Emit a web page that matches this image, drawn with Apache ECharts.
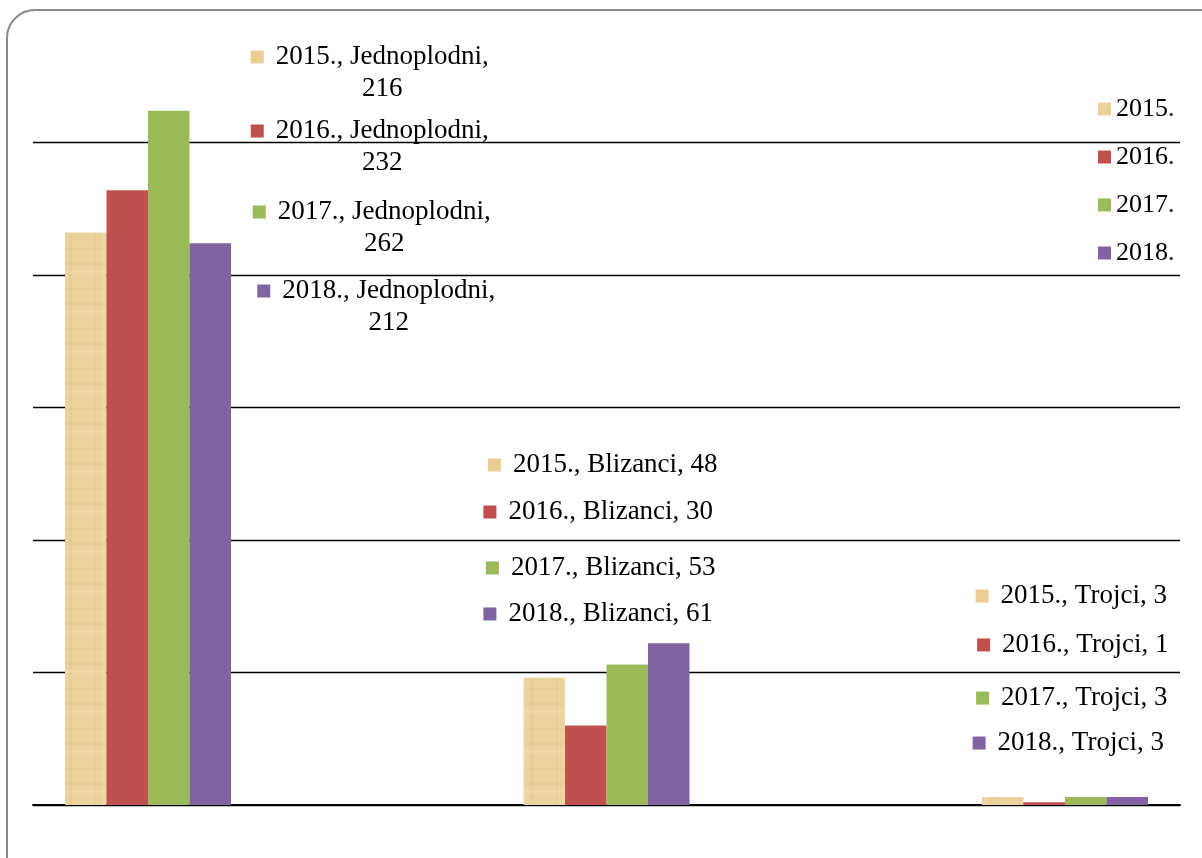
<!DOCTYPE html>
<html>
<head>
<meta charset="utf-8">
<script src="https://cdn.jsdelivr.net/npm/echarts@6/dist/echarts.min.js"></script>
<style>
  html, body { margin: 0; padding: 0; background: #fff; }
  #chart { width: 1202px; height: 858px; }
</style>
</head>
<body>
<div id="chart"></div>
<script>
// podaci
const categories = ['Jednoplodni', 'Blizanci', 'Trojci'];
const years = ['2015.', '2016.', '2017.', '2018.'];
const values2015 = [216, 48, 3];
const values2016 = [232, 30, 1];
const values2017 = [262, 53, 3];
const values2018 = [212, 61, 3];
const yMin = 0;
const yMax = 300;
const yStep = 50;

const seriesValues = [values2015, values2016, values2017, values2018];
const colors = ['#EAD29C', '#C0504D', '#9BBB59', '#8064A2'];
const markerColors = ['#E8CE95', '#C0504D', '#9BBB59', '#8064A2'];

// pomak oznaka u odnosu na vrh stupca (raspored kao u Excelu)
const labelOffsets = [
  [[284, -127.6], [58.5, -196.8], [68.5, -185]],
  [[242.5, -11.2], [12.5, -197.5], [28.5, -141.4]],
  [[203, 149.3], [-26.5, -80.6], [-14, -83]],
  [[166, 95.8], [-70.5, -13.4], [-59, -38]],
];

// tekstura za 2015.
const makePaper = () => {
  const c = document.createElement('canvas');
  c.width = 42; c.height = 40;
  const g = c.getContext('2d');
  g.fillStyle = '#EBD39E';
  g.fillRect(0, 0, 42, 40);
  g.fillStyle = 'rgba(200,170,110,0.10)';
  g.fillRect(0, 8, 42, 2);
  g.fillRect(0, 22, 42, 3);
  g.fillRect(10, 0, 2, 40);
  g.fillRect(27, 0, 3, 40);
  g.fillStyle = 'rgba(255,240,200,0.20)';
  g.fillRect(0, 30, 42, 3);
  g.fillRect(18, 0, 3, 40);
  return c;
};

const font = 'Liberation Serif, Times New Roman, serif';
const chart = echarts.init(document.getElementById('chart'));

const series = years.map((name, si) => ({
  name: name,
  type: 'bar',
  xAxisIndex: 1,
  yAxisIndex: 1,
  barWidth: 41.5,
  barGap: '0%',
  itemStyle: {
    color: si === 0 ? { image: makePaper(), repeat: 'repeat' } : colors[si],
  },
  data: seriesValues[si].map((v, ci) => ({
    value: v,
    label: { offset: labelOffsets[si][ci] },
  })),
  label: {
    show: true,
    position: 'top',
    distance: 0,
    formatter: (p) => {
      if (p.dataIndex === 0) {
        return '{m|}{t|' + p.seriesName + ', ' + p.name + ',}\n{v|' + p.value + '}';
      }
      return '{m|}{t|' + p.seriesName + ', ' + p.name + ', ' + p.value + '}';
    },
    rich: {
      m: { width: 13, height: 13, backgroundColor: markerColors[si] },
      t: { fontSize: 27, fontFamily: font, color: '#000', lineHeight: 32, padding: [0, 0, 0, 12] },
      v: { fontSize: 27, fontFamily: font, color: '#000', lineHeight: 32, padding: [0, 0, 0, 25] },
    },
  },
}));

const option = {
  backgroundColor: '#fff',
  animation: false,
  graphic: [
    {
      type: 'rect',
      z: -10,
      shape: { x: 7, y: 10, width: 1230, height: 890, r: 28 },
      style: { fill: 'none', stroke: '#8a8a8a', lineWidth: 2 },
    },
  ],
  legend: {
    orient: 'vertical',
    left: 1093,
    top: 91,
    itemWidth: 13,
    itemHeight: 13,
    itemGap: 22,
    icon: 'rect',
    data: years,
    textStyle: { fontSize: 26, fontFamily: font, color: '#000', lineHeight: 26 },
  },
  grid: [
    { left: 33, right: 22, top: 10, bottom: 53, outerBoundsMode: 'none', containLabel: false },
    { left: -81.25, right: -92.25, top: 10, bottom: 53, outerBoundsMode: 'none', containLabel: false },
  ],
  xAxis: [
    {
      gridIndex: 0,
      type: 'category',
      data: categories,
      axisLine: { show: true, lineStyle: { color: '#000', width: 2 } },
      axisTick: { show: false },
      axisLabel: { show: false },
    },
    {
      gridIndex: 1,
      type: 'category',
      data: categories,
      show: false,
    },
  ],
  yAxis: [
    {
      gridIndex: 0,
      type: 'value',
      min: yMin,
      max: yMax,
      interval: yStep,
      axisLine: { show: false },
      axisTick: { show: false },
      axisLabel: { show: false },
      splitLine: {
        show: true,
        showMaxLine: false,
        lineStyle: { color: '#000', width: 1.3 },
      },
    },
    {
      gridIndex: 1,
      type: 'value',
      min: yMin,
      max: yMax,
      interval: yStep,
      show: false,
      splitLine: { show: false },
    },
  ],
  series: series,
};

chart.setOption(option);
</script>
</body>
</html>
